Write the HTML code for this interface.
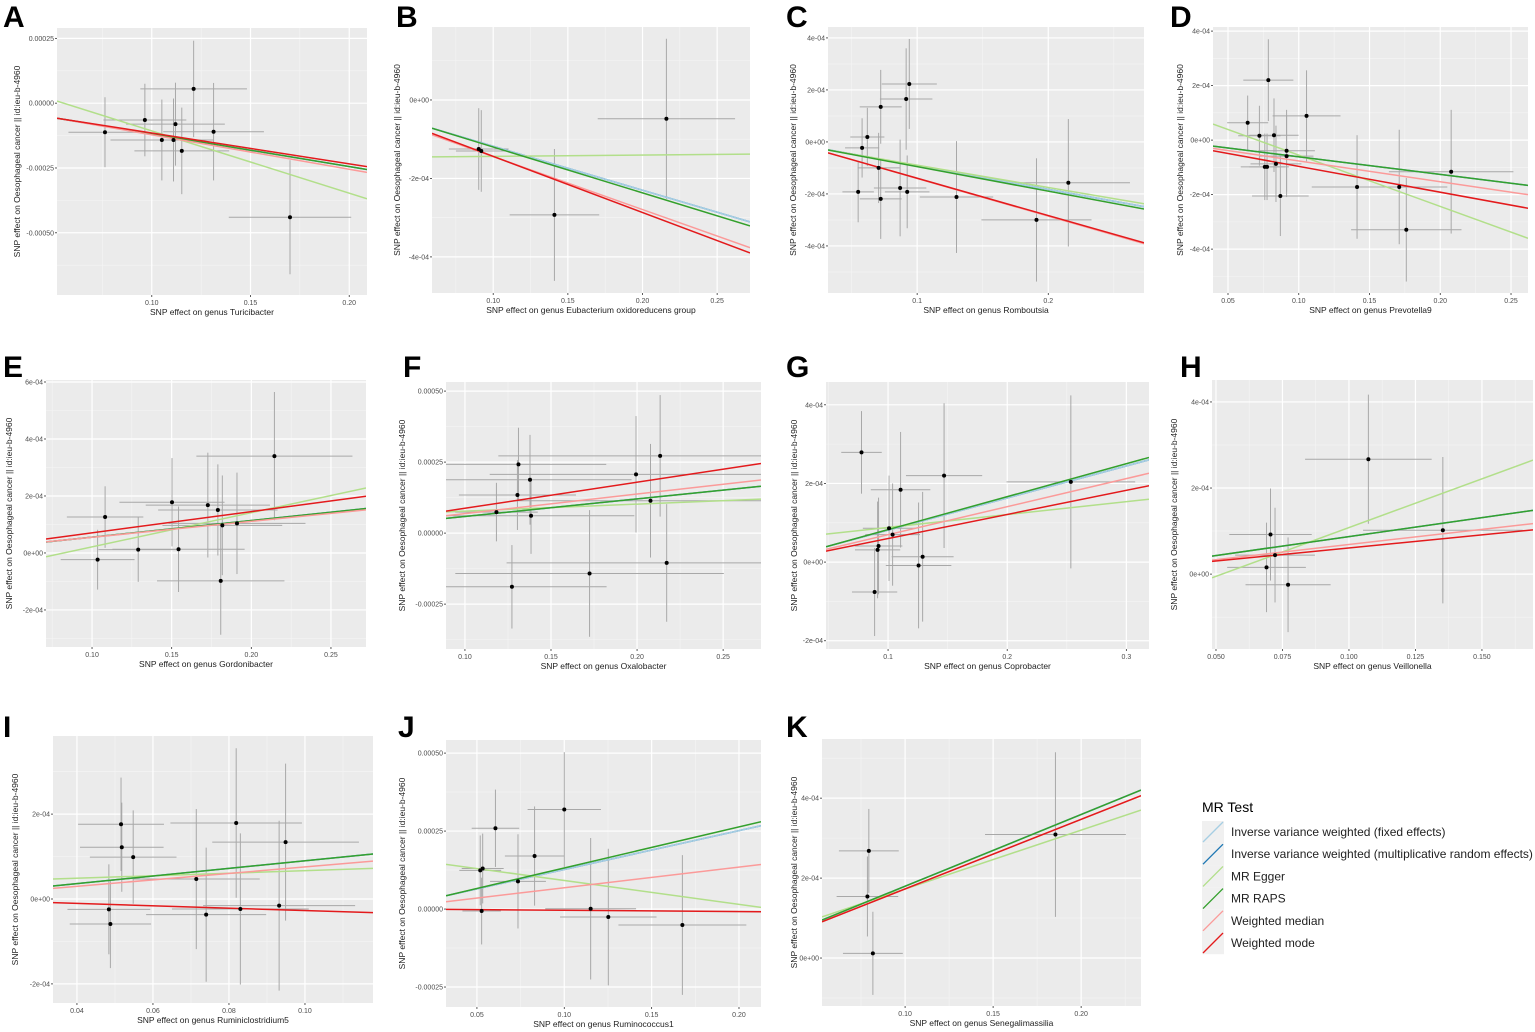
<!DOCTYPE html>
<html><head><meta charset="utf-8"><style>
html,body{margin:0;padding:0;background:#fff;}
body{width:1535px;height:1032px;overflow:hidden;position:relative;font-family:"Liberation Sans",sans-serif;}
svg{position:absolute;left:0;top:0;}
</style></head><body>
<svg id="fig" width="1535" height="1032" viewBox="0 0 1535 1032" xmlns="http://www.w3.org/2000/svg"></svg>
<script>
// Method order: IVW fixed, IVW random, MR Egger, MR RAPS, Weighted median, Weighted mode
const methods = ["Inverse variance weighted (fixed effects)","Inverse variance weighted (multiplicative random effects)","MR Egger","MR RAPS","Weighted median","Weighted mode"];
const methodColors = ["#a6cee3","#1f78b4","#b2df8a","#33a02c","#fb9a99","#e31a1c"];

const A_x=[0.0763,0.0965,0.1051,0.111,0.112,0.1152,0.1212,0.1313,0.170];
const A_y=[-0.000112,-0.000065,-0.000142,-0.000142,-0.000081,-0.000184,0.000055,-0.000110,-0.00044];
const A_xse=[0.0185,0.021,0.026,0.02,0.025,0.024,0.027,0.0255,0.031];
const A_yse=[0.000135,0.00014,0.000156,0.00016,0.00016,0.000167,0.000186,0.000188,0.00022];
const A_slope=[-0.00126,-0.00126,-0.0024,-0.00126,-0.00133,-0.00119];
const A_int=[0.0000075,0.0000075,0.000133,0.0000075,0.000011,0.000004];

const B_x=[0.0903,0.092,0.141,0.216];
const B_y=[-0.000125,-0.00013,-0.000293,-0.000048];
const B_xse=[0.02,0.017,0.03,0.046];
const B_yse=[0.000104,0.000104,0.000168,0.000204];
const B_slope=[-0.00112,-0.00112,0.000033,-0.001169,-0.00135,-0.001432];
const B_int=[-0.000006,-0.000006,-0.000147,-0.000003,-0.0000093,-0.0000005];

const C_x=[0.055,0.058,0.062,0.0706,0.0722,0.0722,0.087,0.0916,0.0924,0.094,0.13,0.191,0.2153];
const C_y=[-0.000192,-0.000023,0.000019,-0.0001,0.000135,-0.000219,-0.000177,0.000165,-0.000192,0.000223,-0.000212,-0.0003,-0.000157];
const C_xse=[0.012,0.013,0.013,0.016,0.016,0.016,0.02,0.02,0.017,0.021,0.028,0.042,0.047];
const C_yse=[0.000117,0.000114,0.000112,0.000135,0.000142,0.000154,0.000186,0.000195,0.00014,0.000173,0.000215,0.000237,0.000245];
const C_slope=[-0.000908,-0.000908,-0.000859,-0.000942,-0.00145,-0.001436];
const C_int=[-0.0000009,-0.0000009,-0.0000035,-0.0000009,0.0000045,0.000004];

const D_x=[0.0639,0.0722,0.076,0.0776,0.0785,0.0825,0.0839,0.087,0.0914,0.0914,0.1055,0.1412,0.171,0.176,0.2077];
const D_y=[0.0000635,0.000016,-0.000098,-0.000098,0.00022,0.000018,-0.000087,-0.000205,-0.000039,-0.000059,0.000089,-0.000172,-0.000172,-0.000329,-0.000116];
const D_xse=[0.0145,0.015,0.017,0.0126,0.0177,0.0174,0.018,0.02,0.02,0.019,0.024,0.032,0.034,0.039,0.044];
const D_yse=[0.0001,0.00011,0.000122,0.000122,0.00015,0.000135,0.00014,0.000147,0.00015,0.00015,0.000167,0.00019,0.00021,0.00019,0.000227];
const D_slope=[-0.000647,-0.000647,-0.001882,-0.000647,-0.000764,-0.000948];
const D_int=[0.0000035,0.0000035,0.000133,0.0000035,0.0,-0.0000016];

const E_x=[0.1035,0.1082,0.129,0.1502,0.1543,0.1727,0.179,0.1808,0.1818,0.191,0.2145];
const E_y=[-0.0000235,0.000126,0.0000116,0.000178,0.000013,0.000168,0.000151,-0.000098,0.000097,0.000104,0.00034];
const E_xse=[0.0232,0.024,0.025,0.033,0.0415,0.039,0.0375,0.04,0.0376,0.043,0.049];
const E_yse=[0.000105,0.000108,0.000113,0.000155,0.00015,0.000184,0.00016,0.000189,0.000175,0.000178,0.000225];
const E_slope=[0.000584,0.000584,0.0012,0.000584,0.00056,0.000747];
const E_int=[-0.0000029,-0.0000029,-0.0000985,-0.0000029,-0.000001,-0.0000041];

const F_x=[0.1183,0.1273,0.1305,0.1311,0.1378,0.1384,0.1724,0.1994,0.2078,0.2134,0.2172];
const F_y=[0.000074,-0.000189,0.000134,0.000242,0.000188,0.000061,-0.000142,0.000207,0.000114,0.000272,-0.000105];
const F_xse=[0.024,0.055,0.034,0.051,0.059,0.06,0.078,0.085,0.08,0.094,0.093];
const F_yse=[0.000103,0.000147,0.000123,0.000129,0.000158,0.000134,0.000223,0.000205,0.0002,0.000214,0.000207];
const F_slope=[0.000619,0.000619,0.000245,0.000619,0.000689,0.000915];
const F_int=[-0.0000034,-0.0000034,0.000053,-0.0000034,-0.0000003,-0.0000039];

const G_x=[0.0777,0.0887,0.0912,0.092,0.1008,0.1038,0.1105,0.1256,0.129,0.147,0.2534];
const G_y=[0.000279,-0.000076,0.000031,0.000041,0.000086,0.00007,0.000184,-0.0000085,0.0000135,0.00022,0.000204];
const G_xse=[0.017,0.019,0.019,0.02,0.022,0.023,0.025,0.0275,0.026,0.032,0.054];
const G_yse=[0.000105,0.000112,0.000123,0.000123,0.000134,0.00013,0.000147,0.00016,0.000165,0.000184,0.00022];
const G_slope=[0.000816,0.000816,0.000327,0.000838,0.000714,0.000613];
const G_int=[-0.0000002,-0.0000002,0.0000555,-0.0000012,-0.0000018,-0.0000014];

const H_x=[0.069,0.0705,0.0722,0.0771,0.1073,0.1353];
const H_y=[0.0000156,0.000092,0.0000442,-0.0000248,0.000267,0.000102];
const H_xse=[0.0148,0.0155,0.015,0.016,0.0238,0.03];
const H_yse=[0.000104,0.000107,0.00011,0.00011,0.00015,0.00017];
const H_slope=[0.00088,0.00088,0.002265,0.00088,0.000703,0.000608];
const H_int=[-0.0000008,-0.0000008,-0.0001184,-0.0000008,-0.0000015,0.0];

const I_x=[0.0484,0.0488,0.0516,0.0518,0.0548,0.0714,0.074,0.0819,0.083,0.0932,0.0949];
const I_y=[-0.0000243,-0.0000588,0.000176,0.000122,0.0000988,0.000047,-0.0000369,0.000179,-0.0000235,-0.0000157,0.000134];
const I_xse=[0.0109,0.0107,0.0113,0.011,0.0114,0.0167,0.0158,0.0173,0.018,0.02,0.0193];
const I_yse=[0.000106,0.000104,0.00011,0.000105,0.00011,0.000165,0.000158,0.000176,0.000178,0.0002,0.000185];
const I_slope=[0.000896,0.000896,0.000297,0.000896,0.00076,-0.00028];
const I_int=[0.0000004,0.0000004,0.000037,0.0000004,-0.0000005,0.0000008];

const J_x=[0.0519,0.0533,0.0527,0.0606,0.0735,0.083,0.1,0.1151,0.1252,0.1676];
const J_y=[0.000124,0.00013,-0.0000064,0.000259,0.0000888,0.00017,0.000319,0.000001,-0.0000256,-0.000051];
const J_xse=[0.012,0.012,0.011,0.0136,0.016,0.017,0.021,0.026,0.0276,0.0366];
const J_yse=[0.000112,0.000112,0.000107,0.000124,0.000151,0.000159,0.000184,0.000227,0.000219,0.000224];
const J_slope=[0.001244,0.001244,-0.000764,0.001316,0.000663,-0.0000427];
const J_int=[0.0000025,0.0000025,0.000168,0.0000002,0.000002,0.0000004];

const K_x=[0.0786,0.0794,0.0817,0.1854];
const K_y=[0.000154,0.000268,0.0000118,0.000309];
const K_xse=[0.0175,0.017,0.017,0.04];
const K_yse=[0.0001,0.000105,0.000104,0.000206];
const K_slope=[0.001794,0.001794,0.001474,0.001794,0.00174,0.00174];
const K_int=[0.0000003,0.0000003,0.0000252,0.0000003,-0.0000011,-0.0000011];

const A_xt=[0.10,0.15,0.20], A_xl=["0.10","0.15","0.20"], A_yt=[0.00025,0,-0.00025,-0.0005], A_yl=["0.00025","0.00000","-0.00025","-0.00050"];
const B_xt=[0.10,0.15,0.20,0.25], B_xl=["0.10","0.15","0.20","0.25"], B_yt=[0,-0.0002,-0.0004], B_yl=["0e+00","-2e-04","-4e-04"];
const C_xt=[0.1,0.2], C_xl=["0.1","0.2"], C_yt=[0.0004,0.0002,0,-0.0002,-0.0004], C_yl=["4e-04","2e-04","0e+00","-2e-04","-4e-04"];
const D_xt=[0.05,0.10,0.15,0.20,0.25], D_xl=["0.05","0.10","0.15","0.20","0.25"], D_yt=C_yt, D_yl=C_yl;
const E_xt=B_xt, E_xl=B_xl, E_yt=[0.0006,0.0004,0.0002,0,-0.0002], E_yl=["6e-04","4e-04","2e-04","0e+00","-2e-04"];
const F_xt=B_xt, F_xl=B_xl, F_yt=[0.0005,0.00025,0,-0.00025], F_yl=["0.00050","0.00025","0.00000","-0.00025"];
const G_xt=[0.1,0.2,0.3], G_xl=["0.1","0.2","0.3"], G_yt=[0.0004,0.0002,0,-0.0002], G_yl=["4e-04","2e-04","0e+00","-2e-04"];
const H_xt=[0.05,0.075,0.10,0.125,0.15], H_xl=["0.050","0.075","0.100","0.125","0.150"], H_yt=[0.0004,0.0002,0], H_yl=["4e-04","2e-04","0e+00"];
const I_xt=[0.04,0.06,0.08,0.10], I_xl=["0.04","0.06","0.08","0.10"], I_yt=[0.0002,0,-0.0002], I_yl=["2e-04","0e+00","-2e-04"];
const J_xt=[0.05,0.10,0.15,0.20], J_xl=["0.05","0.10","0.15","0.20"], J_yt=F_yt, J_yl=F_yl;
const K_xt=[0.10,0.15,0.20], K_xl=["0.10","0.15","0.20"], K_yt=[0.0004,0.0002,0], K_yl=["4e-04","2e-04","0e+00"];

const panels=[
 {id:"A",box:[57,28,367,295],xd:[0.052,0.209],yd:[-0.00074,0.00029],x:A_x,y:A_y,xse:A_xse,yse:A_yse,s:A_slope,b:A_int,xt:A_xt,xl:A_xl,yt:A_yt,yl:A_yl,genus:"Turicibacter",lx:3,ly:2,yx:20},
 {id:"B",box:[432,27,750,293],xd:[0.059,0.272],yd:[-0.000492,0.000186],x:B_x,y:B_y,xse:B_xse,yse:B_yse,s:B_slope,b:B_int,xt:B_xt,xl:B_xl,yt:B_yt,yl:B_yl,genus:"Eubacterium oxidoreducens group",lx:396,ly:2,yx:400},
 {id:"C",box:[828,27,1144,293],xd:[0.032,0.273],yd:[-0.000581,0.000442],x:C_x,y:C_y,xse:C_xse,yse:C_yse,s:C_slope,b:C_int,xt:C_xt,xl:C_xl,yt:C_yt,yl:C_yl,genus:"Romboutsia",lx:786,ly:2,yx:796},
 {id:"D",box:[1213,27,1528,293],xd:[0.0394,0.262],yd:[-0.000561,0.000415],x:D_x,y:D_y,xse:D_xse,yse:D_yse,s:D_slope,b:D_int,xt:D_xt,xl:D_xl,yt:D_yt,yl:D_yl,genus:"Prevotella9",lx:1170,ly:2,yx:1183},
 {id:"E",box:[46,380,366,647],xd:[0.0711,0.272],yd:[-0.00033,0.000607],x:E_x,y:E_y,xse:E_xse,yse:E_yse,s:E_slope,b:E_int,xt:E_xt,xl:E_xl,yt:E_yt,yl:E_yl,genus:"Gordonibacter",lx:3,ly:352,yx:12},
 {id:"F",box:[446,382,761,649],xd:[0.089,0.272],yd:[-0.000408,0.000532],x:F_x,y:F_y,xse:F_xse,yse:F_yse,s:F_slope,b:F_int,xt:F_xt,xl:F_xl,yt:F_yt,yl:F_yl,genus:"Oxalobacter",lx:403,ly:352,yx:405},
 {id:"G",box:[826,382,1149,649],xd:[0.0479,0.319],yd:[-0.000221,0.000458],x:G_x,y:G_y,xse:G_xse,yse:G_yse,s:G_slope,b:G_int,xt:G_xt,xl:G_xl,yt:G_yt,yl:G_yl,genus:"Coprobacter",lx:786,ly:352,yx:797},
 {id:"H",box:[1212,380,1533,649],xd:[0.0485,0.1692],yd:[-0.000174,0.000451],x:H_x,y:H_y,xse:H_xse,yse:H_yse,s:H_slope,b:H_int,xt:H_xt,xl:H_xl,yt:H_yt,yl:H_yl,genus:"Veillonella",lx:1180,ly:352,yx:1177},
 {id:"I",box:[53,736,373,1003],xd:[0.0337,0.1179],yd:[-0.000245,0.000384],x:I_x,y:I_y,xse:I_xse,yse:I_yse,s:I_slope,b:I_int,xt:I_xt,xl:I_xl,yt:I_yt,yl:I_yl,genus:"Ruminiclostridium5",lx:3,ly:712,yx:18},
 {id:"J",box:[446,740,761,1007],xd:[0.0323,0.2126],yd:[-0.000314,0.000542],x:J_x,y:J_y,xse:J_xse,yse:J_yse,s:J_slope,b:J_int,xt:J_xt,xl:J_xl,yt:J_yt,yl:J_yl,genus:"Ruminococcus1",lx:398,ly:712,yx:405},
 {id:"K",box:[822,739,1141,1006],xd:[0.0528,0.234],yd:[-0.00012,0.000548],x:K_x,y:K_y,xse:K_xse,yse:K_yse,s:K_slope,b:K_int,xt:K_xt,xl:K_xl,yt:K_yt,yl:K_yl,genus:"Senegalimassilia",lx:786,ly:712,yx:797}
];

const NS="http://www.w3.org/2000/svg";
const svg=document.getElementById("fig");
function mk(tag,attrs,parent){const e=document.createElementNS(NS,tag);for(const k in attrs)e.setAttribute(k,attrs[k]);(parent||svg).appendChild(e);return e;}

panels.forEach(p=>{
  const [L,T,R,B]=p.box;
  const sx=v=>L+(v-p.xd[0])/(p.xd[1]-p.xd[0])*(R-L);
  const sy=v=>B-(v-p.yd[0])/(p.yd[1]-p.yd[0])*(B-T);
  const g=mk("g",{});
  
  
  const letter=mk("text",{x:p.lx,y:p.ly+25,"font-size":"30","font-weight":"bold",fill:"#000"},g);
  letter.textContent=p.id;
  
  
  const bg=mk("rect",{x:L,y:T,width:R-L,height:B-T,fill:"#ebebeb"},g);
  
  
  const cid="clip"+p.id;
  const cp=mk("clipPath",{id:cid},g);mk("rect",{x:L,y:T,width:R-L,height:B-T},cp);
  const xs=p.xt.slice(), dx=xs[1]-xs[0];
  const ys=p.yt.slice().sort((a,b)=>a-b), dy=ys[1]-ys[0];
  for(let v=xs[0]-dx*3;v<=p.xd[1]+dx;v+=dx){const m=v+dx/2;if(m>p.xd[0]&&m<p.xd[1])mk("line",{x1:sx(m),x2:sx(m),y1:T,y2:B,stroke:"#f5f5f5","stroke-width":0.6},g);}
  for(let v=ys[0]-dy*3;v<=p.yd[1]+dy;v+=dy){const m=v+dy/2;if(m>p.yd[0]&&m<p.yd[1])mk("line",{x1:L,x2:R,y1:sy(m),y2:sy(m),stroke:"#f5f5f5","stroke-width":0.6},g);}
  p.xt.forEach((v,i)=>{const X=sx(v);
    mk("line",{x1:X,x2:X,y1:T,y2:B,stroke:"#fff","stroke-width":1.2},g);
    mk("line",{x1:X,x2:X,y1:B,y2:B+2,stroke:"#333","stroke-width":0.8},g);
    const t=mk("text",{x:X,y:B+10,"font-size":"7","text-anchor":"middle",fill:"#4d4d4d"},g);t.textContent=p.xl[i];
    
    });
  p.yt.forEach((v,i)=>{const Y=sy(v);
    mk("line",{x1:L,x2:R,y1:Y,y2:Y,stroke:"#fff","stroke-width":1.2},g);
    mk("line",{x1:L-2,x2:L,y1:Y,y2:Y,stroke:"#333","stroke-width":0.8},g);
    const t=mk("text",{x:L-3,y:Y+2.5,"font-size":"7","text-anchor":"end",fill:"#4d4d4d"},g);t.textContent=p.yl[i];
    
    });
  const pg=mk("g",{"clip-path":"url(#"+cid+")"},g);
  p.x.forEach((xv,i)=>{const yv=p.y[i];
    const h=mk("line",{x1:sx(xv-p.xse[i]),x2:sx(xv+p.xse[i]),y1:sy(yv),y2:sy(yv),stroke:"#a8a8a8","stroke-width":1},pg);
    
    
    const v=mk("line",{x1:sx(xv),x2:sx(xv),y1:sy(yv-p.yse[i]),y2:sy(yv+p.yse[i]),stroke:"#a8a8a8","stroke-width":1},pg);
    
    
  });
  const order=[1,0,2,3,4,5];
  order.forEach(m=>{
    const x0=p.xd[0],x1=p.xd[1];
    const ln=mk("line",{x1:sx(x0),x2:sx(x1),y1:sy(p.b[m]+p.s[m]*x0),y2:sy(p.b[m]+p.s[m]*x1),stroke:methodColors[m],"stroke-width":1.5},pg);
    
    
  });
  p.x.forEach((xv,i)=>{
    const c=mk("circle",{cx:sx(xv),cy:sy(p.y[i]),r:2,fill:"#000"},pg);
    
    
  });
  const xl=mk("text",{x:(L+R)/2,y:B+20,"font-size":"8.5","text-anchor":"middle",fill:"#222"},g);
  xl.textContent="SNP effect on genus "+p.genus;
  
  
  const cy=(T+B)/2;
  const yl=mk("text",{x:p.yx,y:cy,"font-size":"8.5","text-anchor":"middle",fill:"#222",transform:"rotate(-90 "+p.yx+" "+cy+")"},g);
  yl.textContent="SNP effect on Oesophageal cancer || id:ieu-b-4960";
  
  
});

const lg=mk("g",{});


const lt=mk("text",{x:1202,y:812,"font-size":"14",fill:"#000"},lg);lt.textContent="MR Test";


methods.forEach((m,i)=>{
  const y=821+i*22.2;
  const e=mk("g",{},lg);
  
  
  mk("rect",{x:1202,y:y,width:22,height:22.2,fill:"#f0f0f0"},e);
  mk("line",{x1:1203,y1:y+21,x2:1223,y2:y+1,stroke:methodColors[i],"stroke-width":1.3},e);
  const t=mk("text",{x:1231,y:y+15,"font-size":"12",fill:"#222"},e);t.textContent=m;
});
</script>
</body></html>
